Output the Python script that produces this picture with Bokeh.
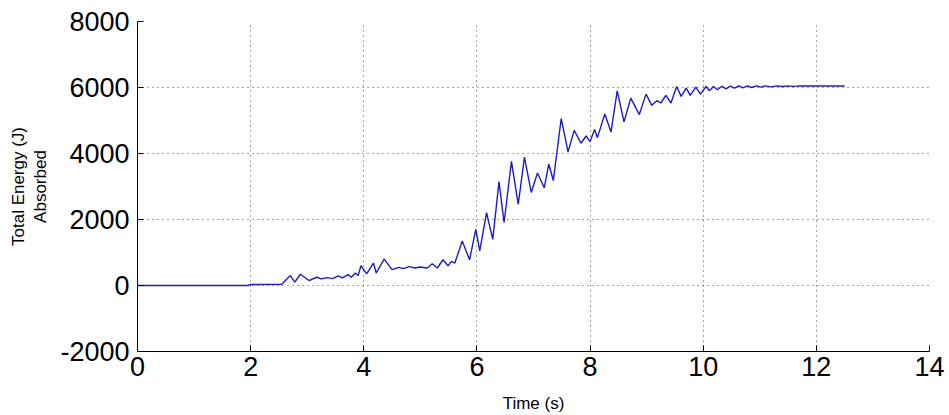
from bokeh.plotting import figure
from bokeh.models import FixedTicker, Range1d
from bokeh.embed import file_html
from bokeh.resources import INLINE

# ---- data ----
time_s = [0, 1.95, 2.0, 2.55, 2.70, 2.78, 2.88, 3.03, 3.17, 3.25, 3.35, 3.45, 3.55, 3.62,
          3.72, 3.78, 3.85, 3.90, 3.95, 4.05, 4.17, 4.22, 4.36, 4.50, 4.62, 4.70, 4.80,
          4.90, 5.00, 5.12, 5.21, 5.30, 5.40, 5.49, 5.55, 5.61, 5.74, 5.87, 5.98, 6.05,
          6.17, 6.28, 6.39, 6.48, 6.61, 6.73, 6.84, 6.96, 7.07, 7.19, 7.27, 7.35, 7.49,
          7.61, 7.72, 7.84, 7.93, 8.00, 8.08, 8.13, 8.26, 8.37, 8.48, 8.60, 8.72, 8.87,
          8.99, 9.09, 9.18, 9.25, 9.34, 9.43, 9.53, 9.61, 9.70, 9.77, 9.87, 9.95, 10.05,
          10.11, 10.18, 10.25, 10.33, 10.40, 10.48, 10.55, 10.63, 10.70, 10.78, 10.86,
          10.94, 11.02, 11.10, 11.20, 11.30, 11.40, 11.50, 11.60, 11.70, 12.00, 12.50]
energy_j = [0, 0, 30, 40, 300, 100, 340, 150, 250, 200, 240, 210, 290, 230,
            330, 250, 380, 300, 600, 350, 680, 380, 800, 480, 550, 510, 570,
            530, 560, 530, 660, 530, 780, 600, 730, 680, 1350, 780, 1700, 1050,
            2210, 1400, 3150, 1910, 3760, 2460, 3890, 2820, 3410, 2960, 3680, 3180, 5060,
            4050, 4700, 4310, 4530, 4360, 4730, 4480, 5200, 4650, 5900, 4960, 5680, 5180,
            5800, 5460, 5600, 5530, 5760, 5530, 6030, 5730, 5980, 5760, 6010, 5800, 6030,
            5900, 6030, 5930, 6040, 5960, 6040, 5980, 6050, 5990, 6050, 6000,
            6050, 6010, 6050, 6020, 6050, 6030, 6050, 6035, 6050, 6045, 6045]

x_ticks = [0, 2, 4, 6, 8, 10, 12, 14]
y_ticks = [-2000, 0, 2000, 4000, 6000, 8000]
y_tick_labels = {-2000: "-2000", 0: "0", 2000: "2000", 4000: "4000", 6000: "6000", 8000: "8000"}
x_label = "Time (s)"
y_label = "Total Energy (J)\nAbsorbed"

FONT = "Liberation Sans"

p = figure(width=949, height=415, output_backend="svg", toolbar_location=None,
           x_range=Range1d(0, 14), y_range=Range1d(-2000, 8000),
           min_border_left=137, min_border_right=20, min_border_top=21, min_border_bottom=63)
p.outline_line_color = None
p.background_fill_color = "white"
p.border_fill_color = "white"

p.line(time_s, energy_j, line_color="#1c1cc8", line_width=1.4)

for ax in (p.xaxis[0], p.yaxis[0]):
    ax.major_tick_in = 6
    ax.major_tick_out = 0
    ax.minor_tick_in = 0
    ax.minor_tick_out = 0
    ax.axis_line_color = "black"
    ax.major_tick_line_color = "black"
    ax.major_label_text_font = FONT
    ax.major_label_text_font_size = "27px"
    ax.major_label_text_color = "black"
    ax.axis_label_text_font = FONT
    ax.axis_label_text_font_size = "17px"
    ax.axis_label_text_font_style = "normal"
    ax.axis_label_text_color = "black"

p.xaxis[0].ticker = FixedTicker(ticks=x_ticks)
p.yaxis[0].ticker = FixedTicker(ticks=y_ticks)
p.yaxis[0].major_label_overrides = {k: v for k, v in y_tick_labels.items()}
p.xaxis[0].major_label_standoff = 5
p.yaxis[0].major_label_standoff = 8
p.xaxis[0].axis_label = x_label
p.yaxis[0].axis_label = y_label
p.xaxis[0].axis_label_standoff = 15
p.yaxis[0].axis_label_standoff = 7

for g in (p.xgrid[0], p.ygrid[0]):
    g.grid_line_color = "#444444"
    g.grid_line_dash = "1 4"
    g.grid_line_width = 1
p.xgrid[0].ticker = FixedTicker(ticks=x_ticks)
p.ygrid[0].ticker = FixedTicker(ticks=y_ticks)

open("out.html", "w").write(file_html(p, INLINE))
